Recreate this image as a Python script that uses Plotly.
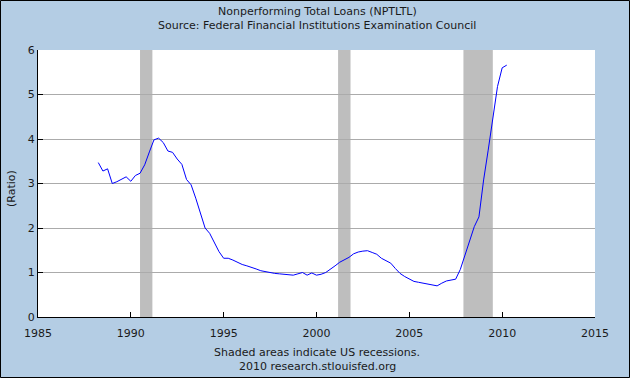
import pandas as pd
import plotly.graph_objects as go

# Quarterly observations, first at 1988 Q2
start_quarter = "1988-04-01"
ratio_values = [
    3.47, 3.28, 3.33, 3.00,
    3.04, 3.10, 3.15, 3.05,
    3.18, 3.23, 3.42, 3.71,
    3.98, 4.02, 3.92, 3.73,
    3.70, 3.55, 3.43, 3.09,
    2.97, 2.67, 2.35, 2.00,
    1.88, 1.69, 1.47, 1.32,
    1.32, 1.28, 1.23, 1.18,
    1.15, 1.12, 1.08, 1.04,
    1.02, 0.99, 0.98, 0.97,
    0.96, 0.94, 0.94, 0.97,
    1.00, 0.94, 0.99, 0.94,
    0.96, 1.00, 1.07, 1.15,
    1.23, 1.28, 1.34, 1.42,
    1.46, 1.48, 1.49, 1.45,
    1.41, 1.32, 1.26, 1.21,
    1.09, 0.98, 0.91, 0.85,
    0.80, 0.78, 0.76, 0.73,
    0.71, 0.70, 0.76, 0.81,
    0.83, 0.85, 1.07, 1.40,
    1.72, 2.03, 2.25, 3.08,
    3.75, 4.50, 5.18, 5.60,
    5.66,
]
quarter_dates = pd.date_range(start_quarter, periods=len(ratio_values), freq="QS")

recession_starts = ["1990-07-01", "2001-03-01", "2007-12-01"]
recession_ends = ["1991-03-01", "2001-11-01", "2009-07-01"]

x_ticks = ["1985-01-01", "1990-01-01", "1995-01-01", "2000-01-01",
           "2005-01-01", "2010-01-01", "2015-01-01"]
x_tick_labels = ["1985", "1990", "1995", "2000", "2005", "2010", "2015"]
y_ticks = [0, 1, 2, 3, 4, 5, 6]

title_line1 = "Nonperforming Total Loans (NPTLTL)"
title_line2 = "Source: Federal Financial Institutions Examination Council"
footer_line1 = "Shaded areas indicate US recessions."
footer_line2 = "2010 research.stlouisfed.org"
y_label = "(Ratio)"

W, H = 630, 378
L, R, T, B = 38, 35, 50, 61
pw, ph = W - L - R, H - T - B

font = "DejaVu Sans"
txt_color = "#1a1a1a"
bg = "#B4CDE4"

fig = go.Figure()
fig.add_trace(go.Scatter(
    x=quarter_dates, y=ratio_values, mode="lines",
    line=dict(color="#0000FF", width=1), hoverinfo="skip", showlegend=False,
))

shapes = []
for s, e in zip(recession_starts, recession_ends):
    shapes.append(dict(type="rect", xref="x", yref="paper", x0=s, x1=e, y0=0, y1=1,
                       fillcolor="#BEBEBE", line=dict(width=0), layer="between"))
# outer frame
shapes.append(dict(type="rect", xref="paper", yref="paper",
                   x0=-(L - 0.5) / pw, x1=1 + (R - 0.5) / pw,
                   y0=-(B - 0.5) / ph, y1=1 + (T - 0.5) / ph,
                   line=dict(color="#000000", width=1), fillcolor="rgba(0,0,0,0)", layer="above"))

def ann(text, x, y, **kw):
    d = dict(text=text, xref="paper", yref="paper", x=x, y=y, showarrow=False,
             font=dict(family=font, size=11, color=txt_color), xanchor="center", yanchor="middle")
    d.update(kw)
    return d

cx = (317 - L) / pw
annotations = [
    ann(title_line1, cx, (H - B - 11.7) / ph),
    ann(title_line2, cx, (H - B - 25.5) / ph),
    ann(footer_line1, cx, (H - B - 352) / ph),
    ann(footer_line2, cx, (H - B - 366) / ph),
    ann(y_label, (12 - L) / pw, (H - B - 189) / ph, textangle=-90),
]

fig.update_layout(
    width=W, height=H, autosize=False,
    margin=dict(l=L, r=R, t=T, b=B, pad=0),
    paper_bgcolor=bg, plot_bgcolor="#FFFFFF",
    shapes=shapes, annotations=annotations,
    font=dict(family=font, size=11, color=txt_color),
    xaxis=dict(type="date", range=["1985-01-01", "2015-01-01"],
               tickvals=x_ticks, ticktext=x_tick_labels,
               ticks="inside", ticklen=5, tickcolor="#000000", tickwidth=1,
               ticklabelstandoff=6,
               showline=True, linecolor="#000000", linewidth=1,
               showgrid=False, zeroline=False,
               tickfont=dict(family=font, size=11, color=txt_color)),
    yaxis=dict(range=[0, 6], tickvals=y_ticks,
               ticks="inside", ticklen=5, tickcolor="#000000", tickwidth=1,
               showline=True, linecolor="#000000", linewidth=1,
               showgrid=True, gridcolor="#ABABAB", gridwidth=1, zeroline=False,
               tickfont=dict(family=font, size=11, color=txt_color)),
)

fig.write_html(
    "out.html",
    config={"staticPlot": True, "displayModeBar": False},
    post_script="document.body.style.margin='0px';document.body.style.overflow='hidden';",
)
